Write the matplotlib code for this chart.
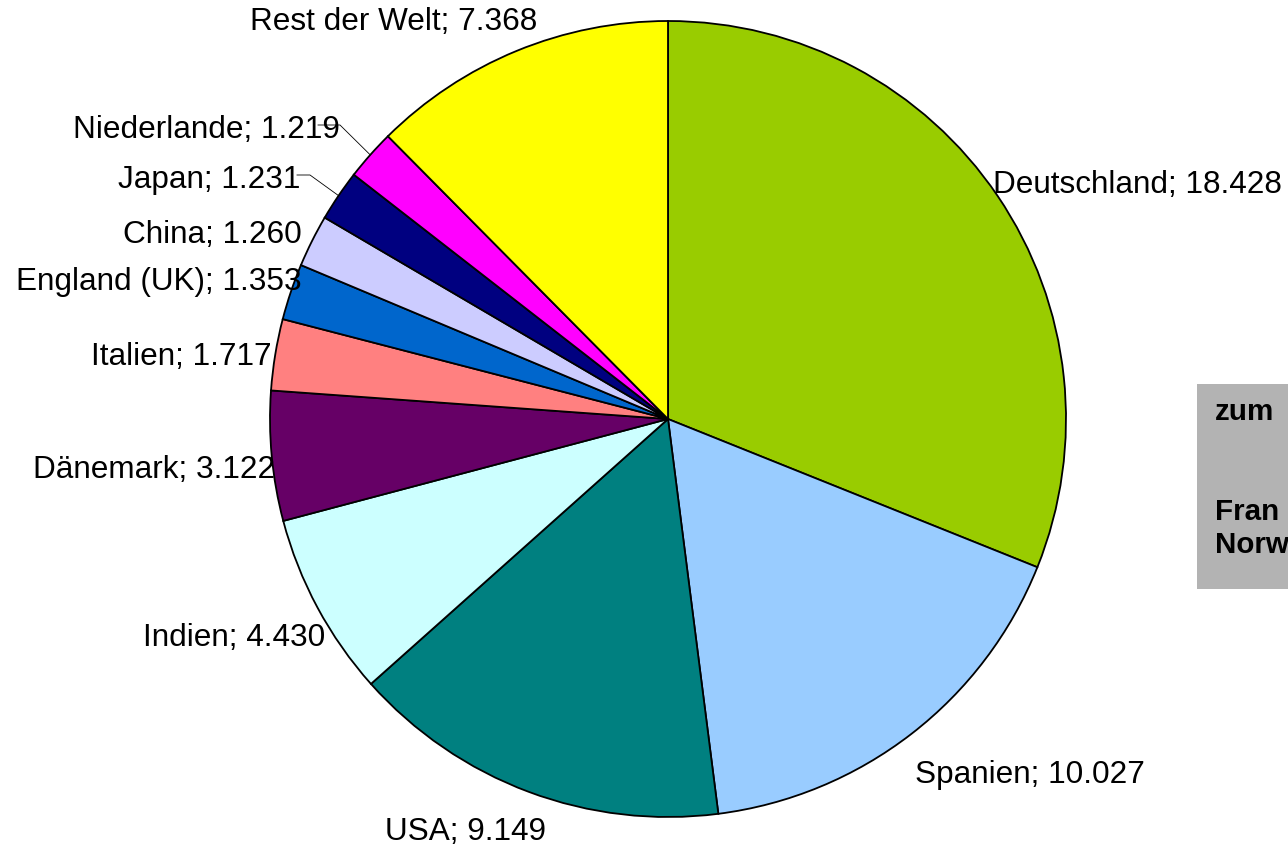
import matplotlib
matplotlib.use("Agg")
import matplotlib.pyplot as plt
from matplotlib.patches import Rectangle
import numpy as np

plt.rcParams['font.family'] = ['Liberation Sans', 'DejaVu Sans']

# Daten (Werte in MW)
laender = ["Deutschland", "Spanien", "USA", "Indien", "Dänemark", "Italien",
           "England (UK)", "China", "Japan", "Niederlande", "Rest der Welt"]
werte = [18.428, 10.027, 9.149, 4.430, 3.122, 1.717, 1.353, 1.260, 1.231, 1.219, 7.368]
farben = ["#99CC00", "#99CCFF", "#008080", "#CCFFFF", "#660066", "#FF8080",
          "#0066CC", "#CCCCFF", "#000080", "#FF00FF", "#FFFF00"]
box_text = ["zum", "Fran", "Norw"]

# label positions in pixels (x, y from top), alignment
label_pos = {
    "Deutschland": (993, 185, "left"),
    "Spanien": (915, 775, "left"),
    "USA": (385, 832, "left"),
    "Indien": (325, 638, "right"),
    "Dänemark": (275, 470, "right"),
    "Italien": (272, 357, "right"),
    "England (UK)": (302, 282, "right"),
    "China": (302, 235, "right"),
    "Japan": (300, 180, "right"),
    "Niederlande": (340, 130, "right"),
    "Rest der Welt": (537, 22, "right"),
}

W, H = 1288, 854
fig = plt.figure(figsize=(W / 100, H / 100), dpi=100)
ax = fig.add_axes([0, 0, 1, 1])

cx, cy, r = 668, H - 420, 398
wedges, _ = ax.pie(werte, colors=farben, startangle=90, counterclock=False,
                   center=(cx, cy), radius=r, frame=True,
                   wedgeprops=dict(edgecolor="black", linewidth=1.3))
ax.set_xlim(0, W)
ax.set_ylim(0, H)
ax.set_aspect("equal")
ax.axis("off")

for name, v in zip(laender, werte):
    x, y, ha = label_pos[name]
    ax.text(x, H - y, f"{name}; {v:.3f}", ha=ha, va="center", fontsize=22.7, color="black")

# leader lines for the small slices
for name, x0, x1 in [("Niederlande", 318, 340), ("Japan", 297, 310)]:
    w = wedges[laender.index(name)]
    mid = np.deg2rad((w.theta1 + w.theta2) / 2)
    ex, ey = cx + r * np.cos(mid), cy + r * np.sin(mid)
    y = H - label_pos[name][1] + 4
    ax.plot([x0, x1, ex], [y, y, ey], color="black", linewidth=0.6)

# grey box on the right (cut off at the edge)
ax.add_patch(Rectangle((1197, H - 590), 200, 205, facecolor="#B3B3B3",
                       edgecolor="none", clip_on=False))
for txt, y in zip(box_text, [412, 512, 545]):
    ax.text(1215, H - y, txt, fontsize=21.3, fontweight="bold", va="center")

fig.savefig("out.png", dpi=100)
